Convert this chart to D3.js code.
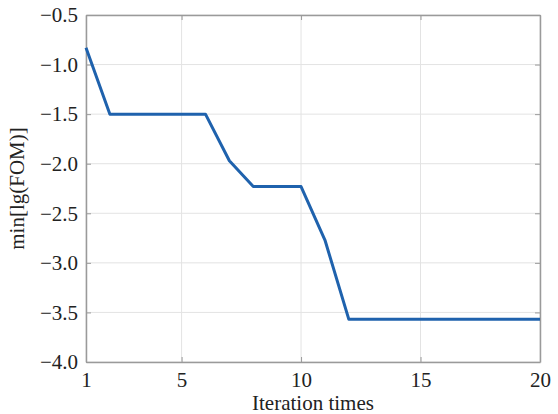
<!DOCTYPE html>
<html>
<head>
<meta charset="utf-8">
<script src="https://cdn.jsdelivr.net/npm/d3@7"></script>
<style>
  body { margin: 0; background: #fff; }
  svg text { font-family: "Liberation Serif", "Times New Roman", serif !important; }
</style>
</head>
<body>
<div id="chart-area"></div>
<script>
// iteration number and best log10(FOM) so far
let iterations = [1, 2, 3, 4, 5, 6, 7, 8, 9, 10, 11, 12, 13, 14, 15, 16, 17, 18, 19, 20];
let minLgFom = [-0.83, -1.5, -1.5, -1.5, -1.5, -1.5, -1.97, -2.23, -2.23, -2.23, -2.77, -3.57,
                -3.57, -3.57, -3.57, -3.57, -3.57, -3.57, -3.57, -3.57];
let xTicks = [1, 5, 10, 15, 20];
let yTicks = [-4.0, -3.5, -3.0, -2.5, -2.0, -1.5, -1.0, -0.5];

let width = 558, height = 414;
let margin = {top: 15, right: 18, bottom: 52, left: 86};

let svg = d3.select('#chart-area')
            .append('svg')
            .attr('width', width)
            .attr('height', height);

let x = d3.scaleLinear()
        .domain([1, 20])
        .range([margin.left, width - margin.right]);

let y = d3.scaleLinear()
        .domain([-4.0, -0.5])
        .range([height - margin.bottom, margin.top]);

// grid
svg.append('g')
    .selectAll('line')
    .data(xTicks)
    .enter()
    .append('line')
    .attr('x1', d => x(d)).attr('x2', d => x(d))
    .attr('y1', y(-4.0)).attr('y2', y(-0.5))
    .attr('stroke', '#e3e3e3')
    .attr('stroke-width', 1);

svg.append('g')
    .selectAll('line')
    .data(yTicks)
    .enter()
    .append('line')
    .attr('x1', x(1)).attr('x2', x(20))
    .attr('y1', d => y(d)).attr('y2', d => y(d))
    .attr('stroke', '#e3e3e3')
    .attr('stroke-width', 1);

// axes (ticks point inward)
svg.append('g')
    .attr('transform', 'translate(0,' + y(-4.0) + ')')
    .call(d3.axisBottom(x).tickValues(xTicks).tickSizeInner(-5).tickSizeOuter(0).tickPadding(10));

svg.append('g')
    .attr('transform', 'translate(' + x(1) + ',0)')
    .call(d3.axisLeft(y).tickValues(yTicks).tickSizeInner(-5).tickSizeOuter(0).tickPadding(8)
        .tickFormat(d => d3.format('.1f')(d).replace('-', '\u2212')));

// right / top axes, ticks only
svg.append('g')
    .attr('transform', 'translate(' + x(20) + ',0)')
    .call(d3.axisRight(y).tickValues(yTicks).tickSizeInner(-5).tickSizeOuter(0).tickFormat(''));
svg.append('g')
    .attr('transform', 'translate(0,' + y(-0.5) + ')')
    .call(d3.axisTop(x).tickValues(xTicks).tickSizeInner(-5).tickSizeOuter(0).tickFormat(''));

svg.selectAll('g').attr('font-family', null).attr('font-size', null);
svg.selectAll('.domain').attr('stroke', '#9a9a9a').attr('stroke-width', 1.5);
svg.selectAll('.tick line').attr('stroke', '#9a9a9a');
svg.selectAll('.tick text')
    .attr('font-size', 21)
    .attr('fill', '#222');

// line
let line = d3.line()
    .x((d, i) => x(iterations[i]))
    .y(d => y(d));

svg.append('path')
    .datum(minLgFom)
    .attr('d', line)
    .attr('fill', 'none')
    .attr('stroke', '#1f62ad')
    .attr('stroke-width', 3)
    .attr('stroke-linejoin', 'round');

// labels
svg.append('text')
    .attr('x', (x(1) + x(20)) / 2)
    .attr('y', height - 4)
    .attr('text-anchor', 'middle')
    .attr('font-size', 21)
    .attr('fill', '#222')
    .text('Iteration times');

svg.append('text')
    .attr('transform', 'translate(24,' + (y(-2.25)) + ') rotate(-90)')
    .attr('text-anchor', 'middle')
    .attr('font-size', 21)
    .attr('fill', '#222')
    .text('min[lg(FOM)]');
</script>
</body>
</html>
